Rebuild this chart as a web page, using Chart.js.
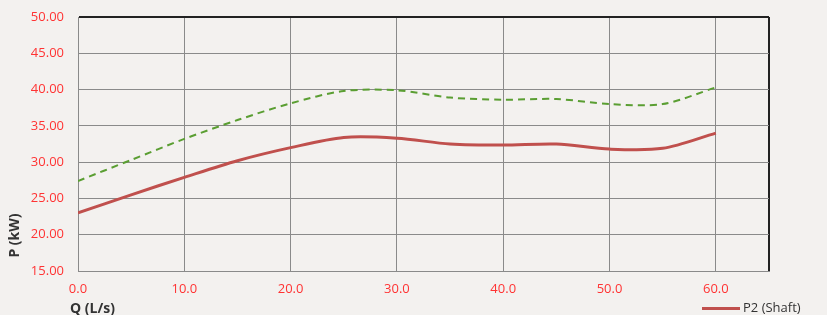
<!DOCTYPE html>
<html>
<head>
<meta charset="utf-8">
<script src="https://cdn.jsdelivr.net/npm/chart.js@4"></script>
<style>
  html, body { margin: 0; padding: 0; background: #f3f1ef; }
  #wrap { position: relative; width: 827px; height: 315px; overflow: hidden; font-family: "Open Sans", sans-serif; }
  #chart { position: absolute; left: 0; top: 0; }
  .ttl { position: absolute; font-weight: bold; font-size: 14px; color: #333; white-space: nowrap; }
  #ytitle { left: -9px; top: 226px; transform: rotate(-90deg); }
  #xtitle { left: 70px; top: 298px; }
  #legend { position: absolute; left: 702px; top: 298px; font-size: 13px; color: #333; white-space: nowrap; }
  #legend span { display: inline-block; width: 38px; height: 3px; background: #c0504d; vertical-align: middle; margin-right: 3px; }
</style>
</head>
<body>
<div id="wrap">
  <canvas id="chart" width="827" height="315"></canvas>
  <div class="ttl" id="ytitle">P (kW)</div>
  <div class="ttl" id="xtitle">Q (L/s)</div>
  <div id="legend"><span></span>P2 (Shaft)</div>
</div>
<script>
// valores
const flow = [0, 5, 10, 15, 20, 25, 30, 35, 40, 45, 50, 55, 60];
const p2Shaft = [23.0, 25.5, 27.9, 30.2, 32.0, 33.4, 33.3, 32.5, 32.35, 32.5, 31.8, 31.9, 34.0];
const p1Dashed = [27.4, 30.3, 33.2, 35.8, 38.1, 39.8, 39.9, 38.9, 38.6, 38.7, 38.0, 38.0, 40.3];

function pts(xs, ys) {
  return xs.map(function (x, i) { return { x: x, y: ys[i] }; });
}

const ctx = document.getElementById("chart").getContext("2d");
new Chart(ctx, {
  type: "line",
  data: {
    datasets: [{
      label: "P2 (Shaft)",
      data: pts(flow, p2Shaft),
      borderColor: "#c0504d",
      borderWidth: 3,
      pointRadius: 0,
      tension: 0.3,
      fill: false
    }, {
      label: "P1",
      data: pts(flow, p1Dashed),
      borderColor: "#5a9e32",
      borderWidth: 2,
      borderDash: [7, 5],
      pointRadius: 0,
      tension: 0.3,
      fill: false
    }]
  },
  options: {
    responsive: false,
    animation: false,
    layout: { padding: { top: 17, right: 58, left: 0, bottom: 0 } },
    plugins: { legend: { display: false }, tooltip: { enabled: false } },
    scales: {
      x: {
        type: "linear",
        min: 0,
        max: 65,
        afterFit: function (s) { s.height = 44; s.paddingLeft = 0; s.paddingRight = 0; },
        ticks: {
          stepSize: 10,
          padding: 10,
          color: "#ff3333",
          font: { family: "Open Sans", size: 13 },
          callback: function (v) { return v > 60 ? "" : v.toFixed(1); }
        },
        grid: {
          drawTicks: false,
          color: function (c) { return c.tick && c.tick.value === 65 ? "#222" : "#8a8a8a"; },
          lineWidth: function (c) { return c.tick && c.tick.value === 65 ? 2 : 1; }
        },
        border: { color: "#8a8a8a" }
      },
      y: {
        min: 15,
        max: 50,
        afterFit: function (s) { s.width = 78; s.paddingTop = 0; s.paddingBottom = 0; },
        ticks: {
          stepSize: 5,
          padding: 14,
          color: "#ff3333",
          font: { family: "Open Sans", size: 13 },
          callback: function (v) { return v.toFixed(2); }
        },
        grid: {
          drawTicks: false,
          color: function (c) { return c.tick && c.tick.value === 50 ? "#222" : "#8a8a8a"; },
          lineWidth: function (c) { return c.tick && c.tick.value === 50 ? 2 : 1; }
        },
        border: { color: "#8a8a8a" }
      }
    }
  }
});
</script>
</body>
</html>
